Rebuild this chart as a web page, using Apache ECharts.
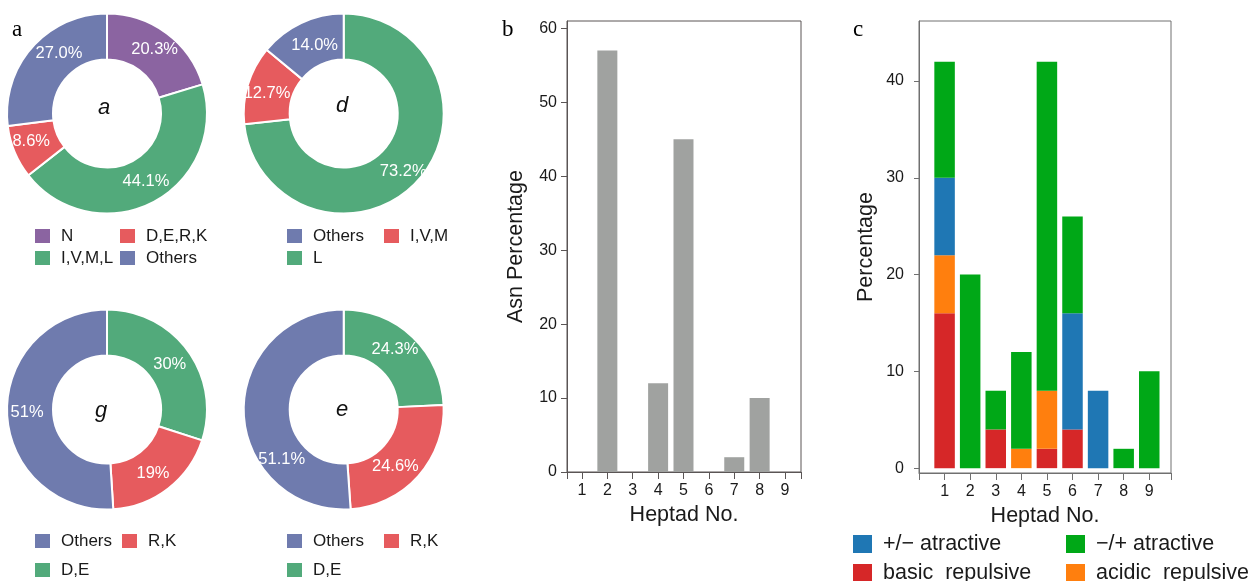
<!DOCTYPE html>
<html>
<head>
<meta charset="utf-8">
<script src="https://cdn.jsdelivr.net/npm/echarts@6/dist/echarts.min.js"></script>
<style>
html,body{margin:0;padding:0;background:#fff;}
#chart{width:1255px;height:581px;}
</style>
</head>
<body>
<div id="chart"></div>
<script>
// ---------- DATA ----------
const pieANames = ['N', 'I,V,M,L', 'D,E,R,K', 'Others'];
const pieAValues = [20.3, 44.1, 8.6, 27.0];
const pieALegend = ['N', 'D,E,R,K', 'I,V,M,L', 'Others'];

const pieDNames = ['L', 'I,V,M', 'Others'];
const pieDValues = [73.2, 12.7, 14.0];
const pieDLegend = ['Others', 'I,V,M', 'L'];

const pieGNames = ['D,E', 'R,K', 'Others'];
const pieGValues = [30, 19, 51];
const pieGLegend = ['Others', 'R,K', 'D,E'];

const pieENames = ['D,E', 'R,K', 'Others'];
const pieEValues = [24.3, 24.6, 51.1];
const pieELegend = ['Others', 'R,K', 'D,E'];

const heptads = [1, 2, 3, 4, 5, 6, 7, 8, 9];
const asnPercentage = [0, 57, 0, 12, 45, 0, 2, 10, 0];

const basicRepulsive = [16, 0, 4, 0, 2, 4, 0, 0, 0];
const acidicRepulsive = [6, 0, 0, 2, 6, 0, 0, 0, 0];
const posNegAttractive = [8, 0, 0, 0, 0, 12, 8, 0, 0];
const negPosAttractive = [12, 20, 4, 10, 34, 10, 0, 2, 10];

const yTicksB = [0, 10, 20, 30, 40, 50, 60];
const yTicksC = [0, 10, 20, 30, 40];

// ---------- STYLE ----------
const FONT = '"Liberation Sans", Arial, sans-serif';
const TXT = '#1a1a1a';
const colorMap = {
  'N': '#8b64a1', 'I,V,M,L': '#52aa7b', 'D,E,R,K': '#e65b5e', 'Others': '#6f7bae',
  'L': '#52aa7b', 'I,V,M': '#e65b5e', 'D,E': '#52aa7b', 'R,K': '#e65b5e'
};
const cColors = {
  basic: '#d62728', acidic: '#ff7f0e', pn: '#1f77b4', np: '#00a817'
};
// small label nudges (px) so the in-ring percentages sit where the original places them
const nudgeA = [[0, 0], [2, -3], [-2, -3], [12, -7]];
const nudgeD = [[0, 5], [0, 3], [5, 4]];
const nudgeG = [[-2, 2], [-3, 1], [0, 0]];
const nudgeE = [[-4, -2], [-8, 4], [18, 47]];

function pieSeries(names, values, center, dec, nudge) {
  return {
    type: 'pie',
    center: center,
    radius: [54, 100],
    startAngle: 90,
    clockwise: true,
    avoidLabelOverlap: false,
    emphasis: {disabled: true},
    itemStyle: {borderColor: '#fff', borderWidth: 2},
    label: {
      show: true, position: 'inside', color: '#fff', fontSize: 16.5, fontFamily: FONT,
      formatter: p => p.value.toFixed(dec) + '%'
    },
    labelLayout: p => ({dx: nudge[p.dataIndex][0], dy: nudge[p.dataIndex][1]}),
    labelLine: {show: false},
    data: names.map((n, i) => ({name: n, value: values[i], itemStyle: {color: colorMap[n]}}))
  };
}

function legendItem(name, left, top, w, h, fs, gap) {
  return {
    data: [name], left: left, top: top, padding: 0,
    itemWidth: w, itemHeight: h, icon: 'rect', selectedMode: false,
    textStyle: {fontSize: fs, color: TXT, fontFamily: FONT, padding: [0, 0, 0, gap]}
  };
}

const legends = [];
function pieLegend(list, x1, x2, y1, y2) {
  const pos = [[x1, y1], [x2, y1], [x1, y2], [x2, y2]];
  list.forEach((n, i) => legends.push(legendItem(n, pos[i][0], pos[i][1], 17, 16, 17, 5)));
}
pieLegend(pieALegend, 33, 118, 227, 249);
pieLegend(pieDLegend, 285, 382, 227, 249);
pieLegend(pieGLegend, 33, 120, 532, 561);
pieLegend(pieELegend, 285, 382, 532, 561);

const cNames = ['+/\u2212 atractive', '\u2212/+ atractive', 'basic  repulsive', 'acidic  repulsive'];
const cPos = [[853, 533], [1066, 533], [853, 562], [1066, 562]];
cNames.forEach((n, i) => legends.push(legendItem(n, cPos[i][0], cPos[i][1], 19, 18, 21.5, 6)));

// value first, heptad second (so the value dimension is the stacked one)
const pairs = arr => heptads.map((h, i) => [arr[i], h]);

function valueAxisCommon(color) {
  return {
    axisLine: {show: true, onZero: false, lineStyle: {color: color, width: 1}},
    splitLine: {show: false},
    nameTextStyle: {fontSize: 21.5, color: TXT, fontFamily: FONT},
    nameLocation: 'middle'
  };
}

function cBar(name, color, arr) {
  return {
    type: 'bar', name: name, xAxisIndex: 1, yAxisIndex: 1, stack: 'c', barWidth: 20.5,
    encode: {x: 1, y: 0},
    itemStyle: {color: color}, data: pairs(arr)
  };
}

const option = {
  animation: false,
  backgroundColor: '#fff',
  textStyle: {fontFamily: FONT},
  grid: [
    {left: 567, right: 454, top: 21, bottom: 109, show: true, borderColor: '#5a5555', borderWidth: 1, outerBoundsMode: 'none'},
    {left: 919, right: 84, top: 21, bottom: 108, show: true, borderColor: '#707070', borderWidth: 1, outerBoundsMode: 'none'}
  ],
  xAxis: [
    Object.assign(valueAxisCommon('#5a5555'), {
      type: 'value', gridIndex: 0, min: 0.41, max: 9.63,
      name: 'Heptad No.', nameGap: 31,
      axisTick: {show: true, length: 7, customValues: [0.41].concat(heptads, [9.63]), lineStyle: {color: '#5a5555'}},
      axisLabel: {customValues: heptads, fontSize: 16, color: TXT, margin: 11, fontFamily: FONT}
    }),
    Object.assign(valueAxisCommon('#707070'), {
      type: 'value', gridIndex: 1, min: 0, max: 9.85,
      name: 'Heptad No.', nameGap: 31,
      axisTick: {show: true, length: 7, customValues: [0].concat(heptads, [9.85]), lineStyle: {color: '#707070'}},
      axisLabel: {customValues: heptads, fontSize: 16, color: TXT, margin: 11, fontFamily: FONT}
    })
  ],
  yAxis: [
    Object.assign(valueAxisCommon('#5a5555'), {
      type: 'value', gridIndex: 0, min: 0, max: 61,
      name: 'Asn Percentage', nameGap: 40,
      axisTick: {show: true, length: 6, customValues: yTicksB, lineStyle: {color: '#5a5555'}},
      axisLabel: {customValues: yTicksB, fontSize: 16, color: TXT, margin: 10, fontFamily: FONT}
    }),
    Object.assign(valueAxisCommon('#707070'), {
      type: 'value', gridIndex: 1, min: -0.5, max: 46.2,
      name: 'Percentage', nameGap: 42,
      axisTick: {show: true, length: 5, customValues: yTicksC, lineStyle: {color: '#707070'}},
      axisLabel: {customValues: yTicksC, fontSize: 16, color: TXT, margin: 15, fontFamily: FONT}
    })
  ],
  legend: legends,
  series: [
    pieSeries(pieANames, pieAValues, [107, 113.5], 1, nudgeA),
    pieSeries(pieDNames, pieDValues, [343.7, 113.5], 1, nudgeD),
    pieSeries(pieGNames, pieGValues, [107, 409.5], 0, nudgeG),
    pieSeries(pieENames, pieEValues, [343.7, 409.5], 1, nudgeE),
    {
      type: 'bar', name: 'Asn', xAxisIndex: 0, yAxisIndex: 0, barWidth: 20,
      encode: {x: 1, y: 0},
      itemStyle: {color: '#a0a2a0'}, data: pairs(asnPercentage)
    },
    cBar(cNames[2], cColors.basic, basicRepulsive),
    cBar(cNames[3], cColors.acidic, acidicRepulsive),
    cBar(cNames[0], cColors.pn, posNegAttractive),
    cBar(cNames[1], cColors.np, negPosAttractive)
  ],
  graphic: [
    {type: 'text', left: 12, top: 18, style: {text: 'a', font: '23px "Liberation Serif", "Times New Roman", serif', fill: '#000'}},
    {type: 'text', left: 502, top: 18, style: {text: 'b', font: '23px "Liberation Serif", "Times New Roman", serif', fill: '#000'}},
    {type: 'text', left: 853, top: 18, style: {text: 'c', font: '23px "Liberation Serif", "Times New Roman", serif', fill: '#000'}},
    {type: 'text', x: 104, y: 108, style: {text: 'a', font: 'italic 22px "Liberation Sans", Arial, sans-serif', fill: '#111', align: 'center', verticalAlign: 'middle'}},
    {type: 'text', x: 342, y: 106, style: {text: 'd', font: 'italic 22px "Liberation Sans", Arial, sans-serif', fill: '#111', align: 'center', verticalAlign: 'middle'}},
    {type: 'text', x: 101, y: 411, style: {text: 'g', font: 'italic 22px "Liberation Sans", Arial, sans-serif', fill: '#111', align: 'center', verticalAlign: 'middle'}},
    {type: 'text', x: 342, y: 410, style: {text: 'e', font: 'italic 22px "Liberation Sans", Arial, sans-serif', fill: '#111', align: 'center', verticalAlign: 'middle'}}
  ]
};

const chart = echarts.init(document.getElementById('chart'), null, {renderer: 'canvas'});
chart.setOption(option);
</script>
</body>
</html>
